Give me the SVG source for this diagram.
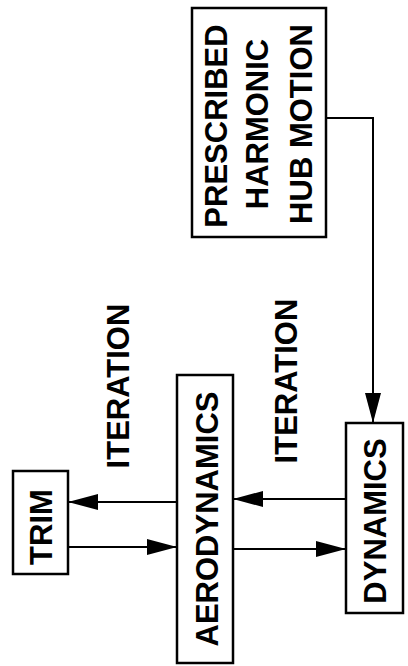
<svg xmlns="http://www.w3.org/2000/svg" width="408" height="666" viewBox="0 0 408 666">
<style>
.box{fill:#fff;stroke:#000;stroke-width:2.5}
.lbl{font-family:"Liberation Sans",Arial,sans-serif;font-weight:bold;font-size:31px;fill:#000;text-anchor:middle}
.con{fill:none;stroke:#000;stroke-width:2}
</style>
<defs>
<marker id="ah" markerUnits="userSpaceOnUse" markerWidth="30" markerHeight="16" refX="30" refY="8" orient="auto">
<path d="M0,0 L30,8 L0,16 Z" fill="#000"/>
</marker>
</defs>
<rect width="408" height="666" fill="#fff"/>
<g id="connectors">
<path class="con" d="M326,118 H373 V423" marker-end="url(#ah)"/>
<path class="con" d="M177,502 H68" marker-end="url(#ah)"/>
<path class="con" d="M68,547 H177" marker-end="url(#ah)"/>
<path class="con" d="M346,499 H233" marker-end="url(#ah)"/>
<path class="con" d="M233,549 H346" marker-end="url(#ah)"/>
</g>
<g id="prescribed">
<rect class="box" x="192" y="8" width="134" height="229"/>
<text class="lbl" transform="translate(227,126) rotate(-90)">PRESCRIBED</text>
<text class="lbl" transform="translate(268,124) rotate(-90)">HARMONIC</text>
<text class="lbl" transform="translate(312,124) rotate(-90)">HUB MOTION</text>
</g>
<g id="trim">
<rect class="box" x="13" y="471" width="55" height="103"/>
<text class="lbl" transform="translate(52,527) rotate(-90)">TRIM</text>
</g>
<g id="aerodynamics">
<rect class="box" x="177" y="375" width="56" height="288"/>
<text class="lbl" transform="translate(218,519) rotate(-90)">AERODYNAMICS</text>
</g>
<g id="dynamics">
<rect class="box" x="346" y="423" width="57" height="190"/>
<text class="lbl" transform="translate(386,521) rotate(-90)">DYNAMICS</text>
</g>
<g id="labels">
<text class="lbl" transform="translate(129,386) rotate(-90)">ITERATION</text>
<text class="lbl" transform="translate(297,381) rotate(-90)">ITERATION</text>
</g>
</svg>
